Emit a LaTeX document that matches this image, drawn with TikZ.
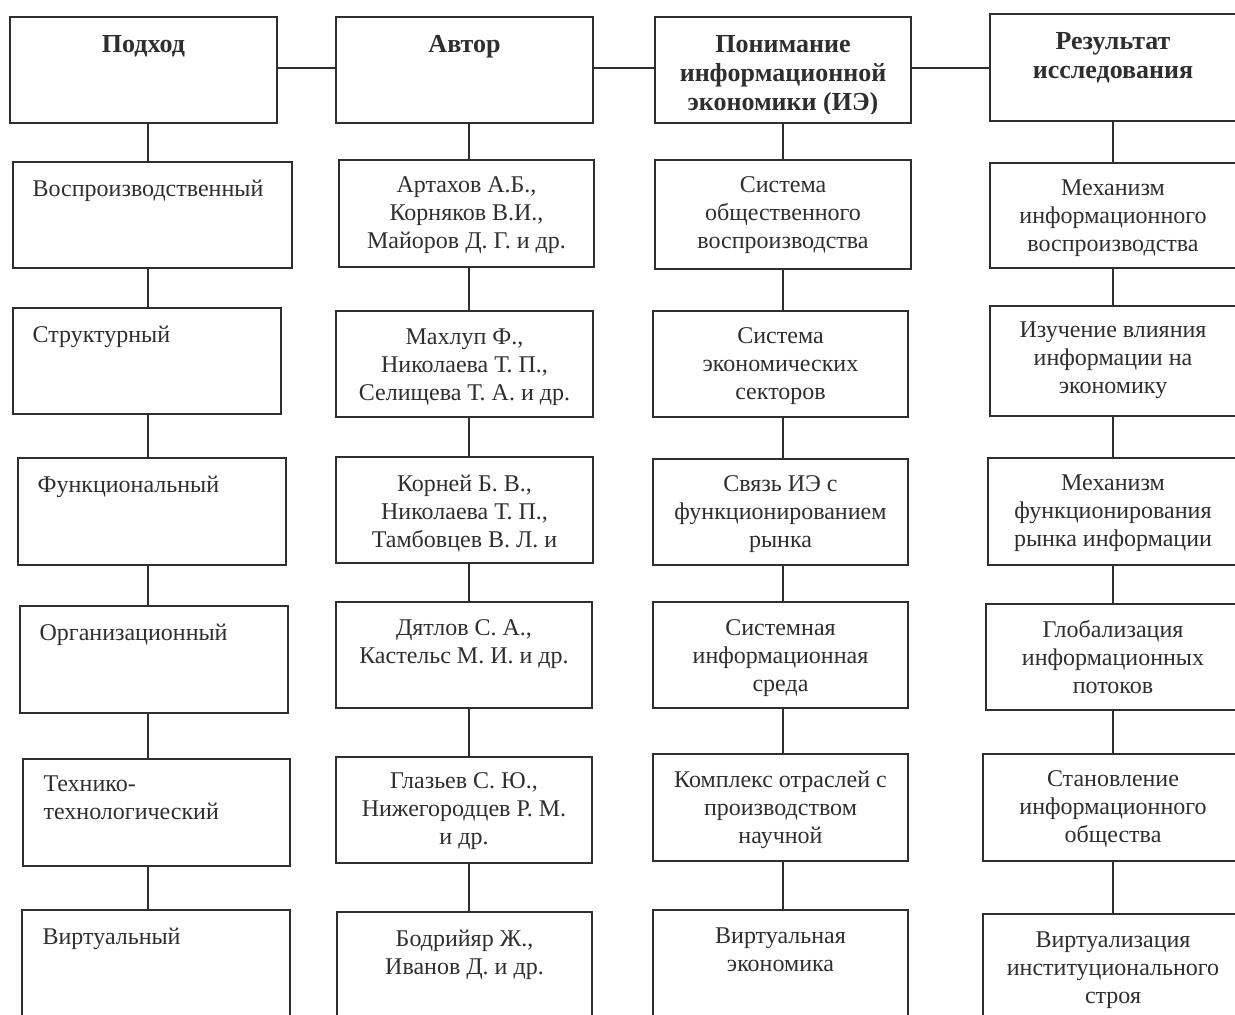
\documentclass[tikz,border=0pt]{standalone}
\usepackage{fontspec}
\setmainfont{Liberation Serif}
\usetikzlibrary{fit}
\definecolor{ink}{HTML}{2E2E2E}
\tikzset{
  box/.style={draw=ink, line width=0.8pt, rectangle, inner sep=0pt, fit={#1}},
  conn/.style={draw=ink, line width=0.8pt},
  ctext/.style={text=ink, inner sep=0pt, align=center, font=\fontsize{12}{14}\selectfont, execute at begin node=\strut},
  ltext/.style={text=ink, inner sep=0pt, align=left, anchor=north west, font=\fontsize{12}{14}\selectfont, execute at begin node=\strut},
  htext/.style={text=ink, inner sep=0pt, align=center, anchor=north, font=\fontsize{13}{14.5}\selectfont\bfseries, execute at begin node=\strut},
}
\begin{document}
\begin{tikzpicture}[x=0.5pt, y=-0.5pt]
\useasboundingbox (0,0) rectangle (1235,1015);
\clip (0,0) rectangle (1235,1015);
% column axes
\coordinate (c1) at (148,0);
\coordinate (c2) at (469,0);
\coordinate (c3) at (783,0);
\coordinate (c4) at (1113,0);
% headers
\node[box={(10,17) (277,123)}] (h1) {};
\node[box={(336,17) (593,123)}] (h2) {};
\node[box={(655,17) (911,123)}] (h3) {};
\node[box={(990,14) (1245,121)}] (h4) {};
\node[htext] (th1) at ([yshift=-7.9pt]h1.north) {Подход};
\node[htext] (th2) at ([yshift=-7.9pt]h2.north) {Автор};
\begin{scope}
\clip (655,17) rectangle (911,114);
\node[htext] (th3) at ([yshift=-9.6pt]h3.north) {Понимание\\информационной\\экономики (ИЭ)};
\end{scope}
\node[htext] (th4) at ([yshift=-9.6pt]h4.north -| c4) {Результат\\исследования};
% column 1
\node[box={(13,162) (292,268)}] (a1) {};
\node[box={(13,308) (281,414)}] (a2) {};
\node[box={(18,458) (286,565)}] (a3) {};
\node[box={(20,606) (288,713)}] (a4) {};
\node[box={(23,759) (290,866)}] (a5) {};
\node[box={(22,910) (290,1030)}] (a6) {};
\node[ltext] (ta1) at ([xshift=10pt,yshift=-7.5pt]a1.north west) {Воспроизводственный};
\node[ltext] (ta2) at ([xshift=10pt,yshift=-7.5pt]a2.north west) {Структурный};
\node[ltext] (ta3) at ([xshift=10pt,yshift=-7.6pt]a3.north west) {Функциональный};
\node[ltext] (ta4) at ([xshift=10pt,yshift=-7.5pt]a4.north west) {Организационный};
\node[ltext] (ta5) at ([xshift=10.5pt,yshift=-8.8pt]a5.north west) {Технико-\\технологический};
\node[ltext] (ta6) at ([xshift=10.5pt,yshift=-7.8pt]a6.north west) {Виртуальный};
% column 2
\node[box={(339,160) (594,267)}] (b1) {};
\node[box={(336,311) (593,417)}] (b2) {};
\node[box={(336,457) (593,563)}] (b3) {};
\node[box={(336,602) (592,708)}] (b4) {};
\node[box={(336,757) (592,863)}] (b5) {};
\node[box={(337,912) (592,1030)}] (b6) {};
\node[ctext, anchor=north] (tb1) at ([yshift=-8.7pt]b1.north) {Артахов А.Б.,\\Корняков В.И.,\\Майоров Д. Г. и др.};
\node[ctext, anchor=north] (tb2) at ([yshift=-8.9pt]b2.north) {Махлуп Ф.,\\Николаева Т. П.,\\Селищева Т. А. и др.};
\node[ctext, anchor=north] (tb3) at ([yshift=-9.2pt]b3.north) {Корней Б. В.,\\Николаева Т. П.,\\Тамбовцев В. Л. и};
\node[ctext, anchor=north] (tb4) at ([yshift=-9.2pt]b4.north) {Дятлов С. А.,\\Кастельс М. И. и др.};
\node[ctext, anchor=north] (tb5) at ([yshift=-8.2pt]b5.north) {Глазьев С. Ю.,\\Нижегородцев Р. М.\\и др.};
\node[ctext, anchor=north] (tb6) at ([yshift=-9.2pt]b6.north) {Бодрийяр Ж.,\\Иванов Д. и др.};
% column 3
\node[box={(655,160) (911,269)}] (d1) {};
\node[box={(653,311) (908,417)}] (d2) {};
\node[box={(653,459) (908,565)}] (d3) {};
\node[box={(653,602) (908,708)}] (d4) {};
\node[box={(653,754) (908,861)}] (d5) {};
\node[box={(653,910) (908,1030)}] (d6) {};
\node[ctext, anchor=north] (td1) at ([yshift=-8.7pt]d1.north) {Система\\общественного\\воспроизводства};
\node[ctext, anchor=north] (td2) at ([yshift=-8.7pt]d2.north) {Система\\экономических\\секторов};
\node[ctext, anchor=north] (td3) at ([yshift=-8.7pt]d3.north) {Связь ИЭ с\\функционированием\\рынка};
\node[ctext, anchor=north] (td4) at ([yshift=-9.2pt]d4.north) {Системная\\информационная\\среда};
\node[ctext, anchor=north] (td5) at ([yshift=-8.7pt]d5.north) {Комплекс отраслей с\\производством\\научной};
\node[ctext, anchor=north] (td6) at ([yshift=-9.2pt]d6.north) {Виртуальная\\экономика};
% column 4
\node[box={(990,163) (1245,268)}] (e1) {};
\node[box={(990,306) (1245,416)}] (e2) {};
\node[box={(988,458) (1245,565)}] (e3) {};
\node[box={(986,604) (1245,710)}] (e4) {};
\node[box={(983,754) (1245,861)}] (e5) {};
\node[box={(983,914) (1245,1030)}] (e6) {};
\node[ctext, anchor=north] (te1) at ([yshift=-8.4pt]e1.north -| c4) {Механизм\\информационного\\воспроизводства};
\node[ctext, anchor=north] (te2) at ([yshift=-8.2pt]e2.north -| c4) {Изучение влияния\\информации на\\экономику};
\node[ctext, anchor=north] (te3) at ([yshift=-8.7pt]e3.north -| c4) {Механизм\\функционирования\\рынка информации};
\node[ctext, anchor=north] (te4) at ([yshift=-8.4pt]e4.north -| c4) {Глобализация\\информационных\\потоков};
\node[ctext, anchor=north] (te5) at ([yshift=-8.7pt]e5.north -| c4) {Становление\\информационного\\общества};
\node[ctext, anchor=north] (te6) at ([yshift=-9.2pt]e6.north -| c4) {Виртуализация\\институционального\\строя};
% horizontal connectors between headers
\coordinate (hy) at (0,68);
\draw[conn] (h1.east |- hy) -- (h2.west |- hy);
\draw[conn] (h2.east |- hy) -- (h3.west |- hy);
\draw[conn] (h3.east |- hy) -- (h4.west |- hy);
% vertical connectors
\draw[conn] (h1.south -| c1) -- (a1.north -| c1);
\draw[conn] (a1.south -| c1) -- (a2.north -| c1);
\draw[conn] (a2.south -| c1) -- (a3.north -| c1);
\draw[conn] (a3.south -| c1) -- (a4.north -| c1);
\draw[conn] (a4.south -| c1) -- (a5.north -| c1);
\draw[conn] (a5.south -| c1) -- (a6.north -| c1);
\draw[conn] (h2.south -| c2) -- (b1.north -| c2);
\draw[conn] (b1.south -| c2) -- (b2.north -| c2);
\draw[conn] (b2.south -| c2) -- (b3.north -| c2);
\draw[conn] (b3.south -| c2) -- (b4.north -| c2);
\draw[conn] (b4.south -| c2) -- (b5.north -| c2);
\draw[conn] (b5.south -| c2) -- (b6.north -| c2);
\draw[conn] (h3.south -| c3) -- (d1.north -| c3);
\draw[conn] (d1.south -| c3) -- (d2.north -| c3);
\draw[conn] (d2.south -| c3) -- (d3.north -| c3);
\draw[conn] (d3.south -| c3) -- (d4.north -| c3);
\draw[conn] (d4.south -| c3) -- (d5.north -| c3);
\draw[conn] (d5.south -| c3) -- (d6.north -| c3);
\draw[conn] (h4.south -| c4) -- (e1.north -| c4);
\draw[conn] (e1.south -| c4) -- (e2.north -| c4);
\draw[conn] (e2.south -| c4) -- (e3.north -| c4);
\draw[conn] (e3.south -| c4) -- (e4.north -| c4);
\draw[conn] (e4.south -| c4) -- (e5.north -| c4);
\draw[conn] (e5.south -| c4) -- (e6.north -| c4);
\end{tikzpicture}
\end{document}
